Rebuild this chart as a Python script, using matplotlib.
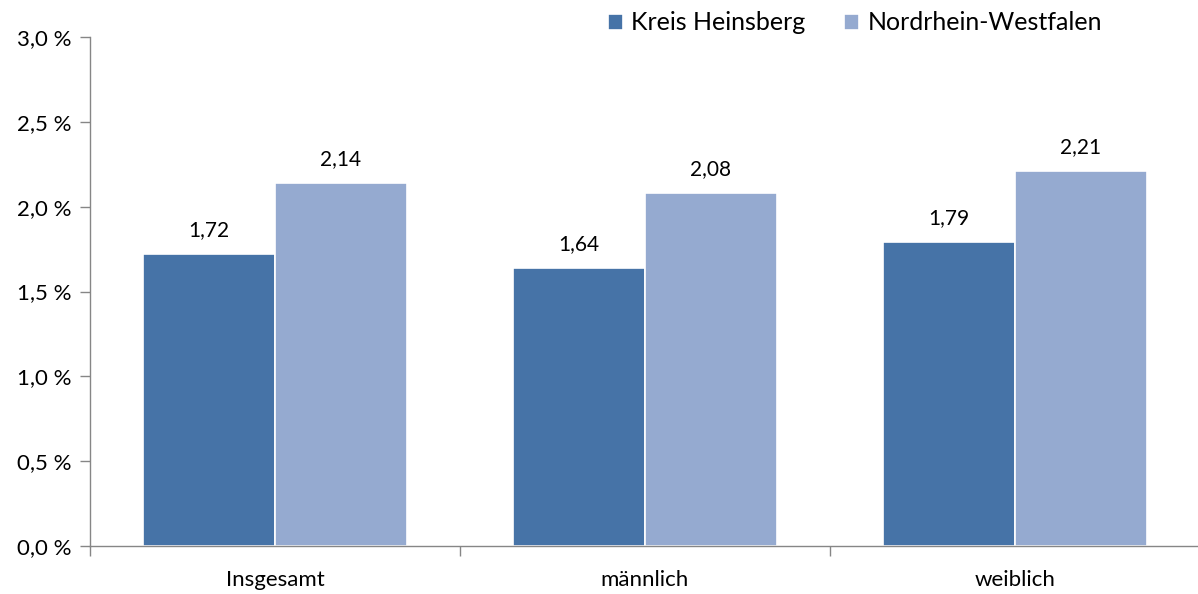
import numpy as np
import matplotlib.pyplot as plt
from matplotlib.ticker import FuncFormatter

categories = ["Insgesamt", "männlich", "weiblich"]
series_names = ["Kreis Heinsberg", "Nordrhein-Westfalen"]
heinsberg = [1.72, 1.64, 1.79]
nrw = [2.14, 2.08, 2.21]
yticks = [0.0, 0.5, 1.0, 1.5, 2.0, 2.5, 3.0]

plt.rcParams['font.family'] = ['Lato', 'DejaVu Sans']
colors = ["#4673A7", "#95AAD0"]
axis_col = "#868686"

fig = plt.figure(figsize=(11.98, 5.94), dpi=100)
ax = fig.add_axes([0.0751, 0.0808, 0.9265, 0.8569])

x = np.arange(len(categories))
w = 0.357
for i, (vals, name) in enumerate(zip([heinsberg, nrw], series_names)):
    pos = x + (i - 0.5) * w
    ax.bar(pos, vals, width=w, color=colors[i], edgecolor="white", linewidth=1.2, label=name, zorder=2)
    for p, v in zip(pos, vals):
        ax.annotate(f"{v:.2f}".replace(".", ","), (p, v), xytext=(0, 10), textcoords="offset points",
                    ha="center", va="bottom", fontsize=15, color="black")

ax.set_xlim(-0.5, len(categories) - 0.5)
ax.set_ylim(0, 3.0)
ax.set_yticks(yticks)
ax.yaxis.set_major_formatter(FuncFormatter(lambda v, _: f"{v:.1f} %".replace(".", ",")))
ax.set_xticks(x)
ax.set_xticklabels(categories)
ax.set_xticks(np.arange(-0.5, len(categories)), minor=True)
ax.tick_params(axis="x", which="major", length=0, pad=17, labelsize=16)
ax.tick_params(axis="x", which="minor", length=7, color=axis_col, width=1)
ax.tick_params(axis="y", length=7, color=axis_col, width=1, labelsize=16, pad=6)

for s in ["top", "right"]:
    ax.spines[s].set_visible(False)
for s in ["left", "bottom"]:
    ax.spines[s].set_color(axis_col)
    ax.spines[s].set_linewidth(1)

ax.legend(loc="upper left", bbox_to_anchor=(0.4574, 1.07), ncol=2, frameon=False, fontsize=18,
          handlelength=0.6, handleheight=0.6, handletextpad=0.35, columnspacing=1.55, borderaxespad=0)

fig.savefig("out.png", dpi=100)
